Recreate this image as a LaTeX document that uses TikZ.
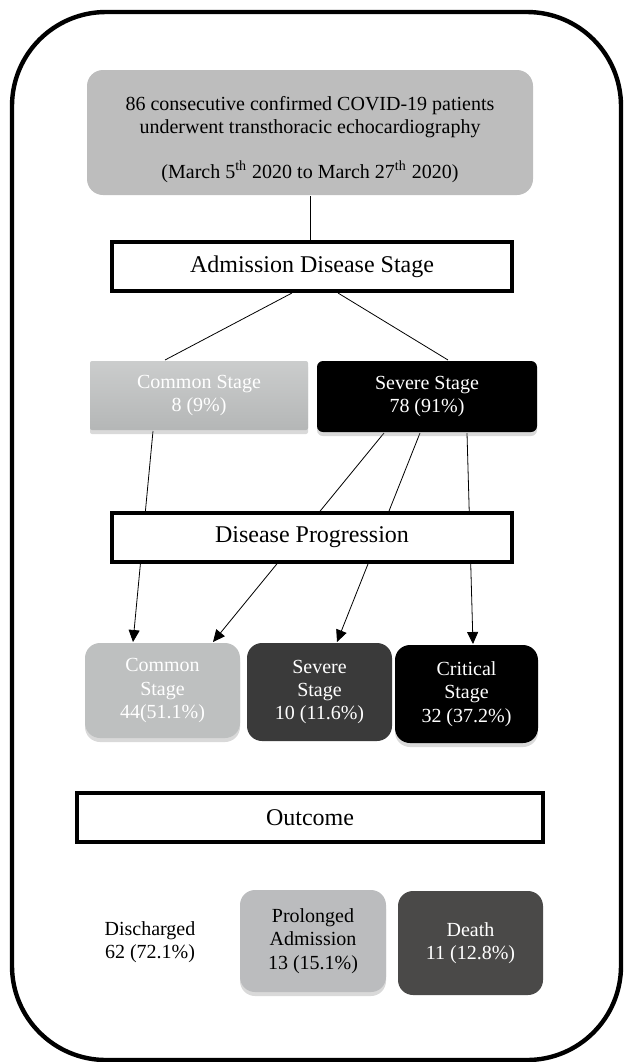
\documentclass[tikz,border=0pt]{standalone}
\usepackage{fontspec}
\setmainfont{Liberation Serif}
\usetikzlibrary{calc,backgrounds,shadows,arrows.meta}
\definecolor{topgray}{HTML}{BDBDBD}
\definecolor{stagegray}{HTML}{BEC0C0}
\definecolor{stagedark}{HTML}{3A3A3A}
\definecolor{deathgray}{HTML}{4A4948}
\definecolor{prolgray}{HTML}{BBBCBE}

\begin{document}
\begin{tikzpicture}[x=0.5pt,y=-0.5pt,line width=1pt]
    % `heading' is used for the three titled bars.
    % `filled' is the base of every grey or black box.
    % `surround' is used for the outer frame.
    \tikzstyle{heading} = [draw,line width=2pt,fill=white,minimum width=200pt,minimum height=24.5pt,inner sep=0pt,font=\fontsize{12}{14}\selectfont]
    \tikzstyle{filled} = [align=center,inner sep=2pt,font=\fontsize{10}{11.6}\selectfont]
    \tikzstyle{shade} = [drop shadow={shadow xshift=0pt,shadow yshift=-2pt,opacity=0.3}]
    \tikzstyle{surround} = [line width=2.2pt,rounded corners=47pt]
    \tikzstyle{link} = [-{Triangle[length=6pt,width=5.5pt]}]
    %
    \useasboundingbox (0,0) rectangle (624,1062);
    \draw[surround] (12,12) rectangle (621,1060);

    \node[filled,fill=topgray,rounded corners=8pt,minimum width=223pt,minimum height=62.5pt,font=\fontsize{10}{11.25}\selectfont] (top) at (310,132.5)
      {\rule{0pt}{14pt}86 consecutive confirmed COVID-19 patients\\underwent transthoracic echocardiography\\[11.25pt]
       (March 5\textsuperscript{th} 2020 to March 27\textsuperscript{th} 2020)};

    \node[heading] (adm) at (312,266.5) {Admission Disease Stage};

    \node[filled,shade,top color=stagegray!80,bottom color=stagegray!95!black,text=white,rounded corners=1pt,minimum width=109pt,minimum height=34.5pt] (comtop) at (199,395.5) {Common Stage\\8 (9\%)};
    \node[filled,shade,fill=black,text=white,rounded corners=3pt,minimum width=110pt,minimum height=35.5pt] (sevtop) at (427,396.5) {Severe Stage\\78 (91\%)};

    \node[heading] (prog) at (312,537.5) {Disease Progression};

    \node[filled,shade,fill=stagegray,text=white,rounded corners=7.5pt,minimum width=77.5pt,minimum height=47.5pt] (combot) at (162.5,690.5) {Common\\Stage\\44(51.1\%)};
    \node[filled,fill=stagedark,text=white,rounded corners=7.5pt,minimum width=72.5pt,minimum height=49pt] (sevbot) at (319.5,692) {Severe\\Stage\\10 (11.6\%)};
    \node[filled,shade,fill=black,text=white,rounded corners=7.5pt,minimum width=71.5pt,minimum height=49pt] (crit) at (466.5,694) {Critical\\Stage\\32 (37.2\%)};

    \node[heading,minimum width=233pt] (out) at (310,817.5) {Outcome};

    \node[filled] (disch) at (150,942) {Discharged\\62 (72.1\%)};
    \node[filled,shade,fill=prolgray,rounded corners=7.5pt,minimum width=73pt,minimum height=51pt] (prol) at (313,941) {Prolonged\\Admission\\13 (15.1\%)};
    \node[filled,fill=deathgray,text=white,rounded corners=7.5pt,minimum width=72.5pt,minimum height=52pt] (death) at (470.5,943) {Death\\11 (12.8\%)};

    \begin{pgfonlayer}{background}
        % Draw lines.
        \draw (top.south) -- (top.south |- adm.north);
        \draw ($(adm.south)+(-20,0)$) -- ($(comtop.north)+(-34,0)$);
        \draw ($(adm.south)+(26,0)$) -- ($(sevtop.north)+(21,0)$);
        % Draw arrows, they pass under `prog'.
        \draw[link] ($(comtop.south)+(-46,0)$) -- ($(combot.north)+(-29.5,0)$);
        \draw[link] ($(sevtop.south)+(-43,0)$) -- ($(combot.north)+(50.5,0)$);
        \draw[link] ($(sevtop.south)+(-7,0)$) -- ($(sevbot.north)+(17.5,0)$);
        \draw[link] ($(sevtop.south)+(40,0)$) -- ($(crit.north)+(6.5,0)$);
    \end{pgfonlayer}
\end{tikzpicture}
\end{document}
